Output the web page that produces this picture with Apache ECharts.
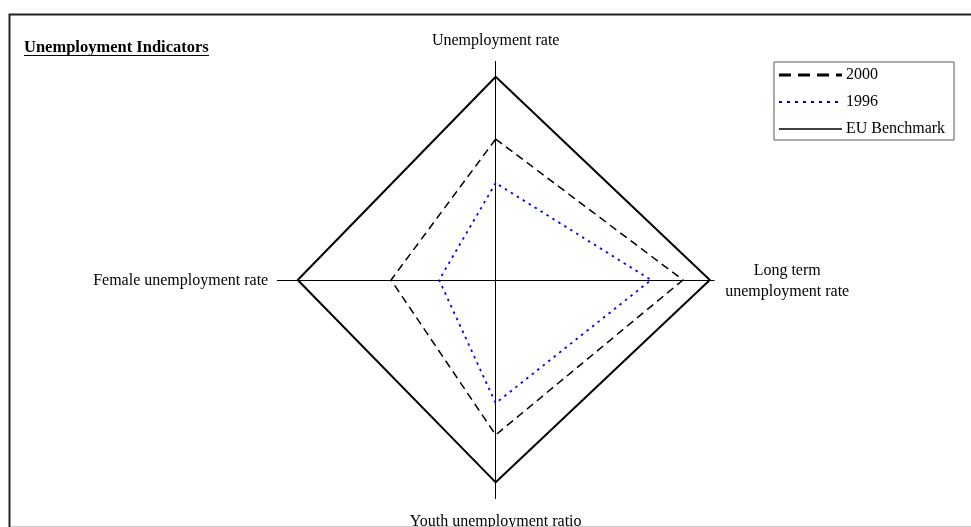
<!DOCTYPE html>
<html>
<head>
<meta charset="utf-8">
<script src="https://cdn.jsdelivr.net/npm/echarts@6/dist/echarts.min.js"></script>
<style>
html,body{margin:0;padding:0;background:#fff;}
#chart{width:971px;height:527px;}
</style>
</head>
<body>
<div id="chart"></div>
<script>
// Indicators (counter-clockwise from top)
var indicators = ['Unemployment rate', 'Female unemployment rate', 'Youth unemployment ratio', 'Long term\nunemployment rate'];
var axisMax = 100;
var seriesNames = ['2000', '1996', 'EU Benchmark'];
var values2000 = [64.5, 47.9, 70.9, 85.7];
var values1996 = [44.4, 25.9, 56.4, 71.1];
var valuesBenchmark = [93.0, 90.6, 92.6, 98.0];
var titleText = 'Unemployment Indicators';

var FONT = "'Liberation Serif', 'Times New Roman', serif";
var lineStyles = [
  {color: '#000', width: 1.5, type: [8, 5]},
  {color: '#0000ff', width: 1.8, type: [2.5, 4.5]},
  {color: '#000', width: 2, type: 'solid'}
];
var legendLineStyles = [
  {stroke: '#000', lineWidth: 3, lineDash: [12, 7]},
  {stroke: '#0000ff', lineWidth: 2, lineDash: [3, 5]},
  {stroke: '#000', lineWidth: 1.5, lineDash: null}
];
var allValues = [values2000, values1996, valuesBenchmark];

var chart = echarts.init(document.getElementById('chart'), null, {renderer: 'canvas'});

var legendChildren = [{
  type: 'rect', shape: {x: 0, y: 0, width: 180, height: 78},
  style: {fill: '#fff', stroke: '#555', lineWidth: 1}
}];
seriesNames.forEach(function (n, i) {
  var cy = 13 + i * 27;
  legendChildren.push({
    type: 'line', shape: {x1: 5, y1: cy, x2: 68, y2: cy},
    style: legendLineStyles[i]
  });
  legendChildren.push({
    type: 'text', x: 72, y: cy,
    style: {text: n, font: '16px ' + FONT, fill: '#000', textVerticalAlign: 'middle', verticalAlign: 'middle'}
  });
});

var option = {
  backgroundColor: '#fff',
  animation: false,
  title: {
    text: titleText, left: 24, top: 39, padding: 0,
    textStyle: {fontFamily: FONT, fontWeight: 'bold', fontSize: 16.5, color: '#000'}
  },
  radar: {
    center: [495.7, 280],
    radius: 218.5,
    shape: 'polygon',
    splitNumber: 1,
    indicator: indicators.map(function (n) { return {name: n, max: axisMax, min: 0}; }),
    axisName: {
      color: '#000', fontFamily: FONT, fontSize: 16, padding: [6, 0, 4, 0],
      formatter: function (name) {
        if (name.indexOf('\n') >= 0) {
          return name.split('\n').map(function (s) { return '{c|' + s + '}'; }).join('\n');
        }
        return name;
      },
      rich: {c: {width: 128, align: 'center', fontFamily: FONT, fontSize: 16, color: '#000', lineHeight: 21}}
    },
    nameGap: 9,
    axisLine: {lineStyle: {color: '#000', width: 1}},
    splitLine: {show: false},
    splitArea: {show: false},
    axisTick: {show: false},
    axisLabel: {show: false}
  },
  series: seriesNames.map(function (n, i) {
    return {
      type: 'radar', name: n, symbol: 'none', silent: true,
      data: [{value: allValues[i], name: n}],
      lineStyle: lineStyles[i],
      itemStyle: {color: lineStyles[i].color},
      areaStyle: null
    };
  }),
  graphic: [
    {type: 'rect', shape: {x: 9.5, y: 14.5, width: 980, height: 530}, style: {fill: null, stroke: '#222', lineWidth: 2}, silent: true},
    {type: 'line', shape: {x1: 11, y1: 526.5, x2: 971, y2: 526.5}, style: {stroke: '#ccc', lineWidth: 1}},
    {type: 'line', shape: {x1: 24, y1: 55.5, x2: 209, y2: 55.5}, style: {stroke: '#000', lineWidth: 1.2}},
    {type: 'group', x: 774, y: 62, children: legendChildren}
  ]
};
chart.setOption(option);
</script>
</body>
</html>
